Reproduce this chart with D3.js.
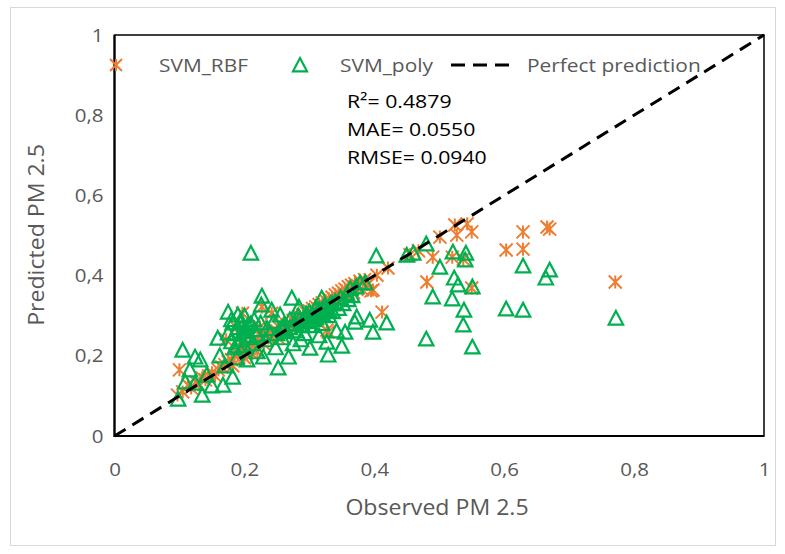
<!DOCTYPE html>
<html>
<head>
<meta charset="utf-8">
<script src="https://cdn.jsdelivr.net/npm/d3@7"></script>
<style>
  html, body { margin: 0; padding: 0; background: #fff; }
  svg { display: block; }
  text { font-family: "Open Sans", sans-serif; }
</style>
</head>
<body>
<script>
// Observed vs predicted PM 2.5 (normalised) for the two SVM kernels
const rbfObserved = [
  0.097,0.105,0.100,0.113,0.118,0.125,0.130,0.135,0.140,0.145,0.150,0.155,0.160,0.165,0.170,0.172,
  0.175,0.180,0.182,0.185,0.188,0.190,0.195,0.197,0.200,0.200,0.205,0.210,0.212,0.215,0.220,0.220,
  0.224,0.227,0.228,0.230,0.235,0.240,0.242,0.245,0.250,0.252,0.255,0.260,0.262,0.265,0.270,0.272,
  0.275,0.280,0.282,0.285,0.290,0.292,0.295,0.300,0.302,0.305,0.310,0.312,0.315,0.320,0.322,0.325,
  0.327,0.329,0.330,0.335,0.338,0.340,0.345,0.348,0.350,0.355,0.358,0.360,0.365,0.368,0.370,0.375,
  0.378,0.382,0.385,0.390,0.395,0.398,0.404,0.412,0.421,0.455,0.468,0.481,0.490,0.501,0.520,0.524,
  0.527,0.537,0.543,0.550,0.550,0.603,0.629,0.629,0.666,0.670,0.771
];
const rbfPredicted = [
  0.102,0.110,0.165,0.127,0.120,0.135,0.128,0.145,0.140,0.150,0.158,0.150,0.165,0.172,0.178,0.240,
  0.185,0.190,0.175,0.200,0.270,0.205,0.212,0.306,0.215,0.195,0.222,0.228,0.205,0.235,0.210,0.240,
  0.272,0.322,0.245,0.230,0.252,0.250,0.306,0.258,0.262,0.245,0.268,0.272,0.258,0.278,0.282,0.268,
  0.288,0.292,0.278,0.298,0.302,0.288,0.308,0.312,0.298,0.318,0.322,0.305,0.328,0.332,0.318,0.338,
  0.264,0.259,0.342,0.346,0.332,0.352,0.356,0.340,0.362,0.366,0.350,0.372,0.376,0.358,0.380,0.372,
  0.386,0.365,0.390,0.378,0.362,0.364,0.401,0.309,0.419,0.452,0.462,0.384,0.446,0.496,0.446,0.526,
  0.501,0.441,0.529,0.509,0.369,0.464,0.466,0.509,0.521,0.516,0.384
];
const polyObserved = [
  0.098,0.105,0.109,0.116,0.124,0.124,0.132,0.135,0.142,0.150,0.159,0.162,0.167,0.170,0.175,0.175,
  0.180,0.182,0.182,0.185,0.188,0.190,0.193,0.195,0.198,0.200,0.204,0.205,0.208,0.210,0.212,0.215,
  0.219,0.220,0.225,0.226,0.227,0.229,0.232,0.235,0.240,0.242,0.245,0.248,0.252,0.255,0.258,0.260,
  0.265,0.268,0.270,0.273,0.275,0.278,0.280,0.283,0.284,0.287,0.290,0.293,0.295,0.298,0.300,0.301,
  0.304,0.307,0.310,0.312,0.315,0.318,0.319,0.320,0.323,0.327,0.329,0.330,0.333,0.336,0.340,0.342,
  0.345,0.348,0.350,0.352,0.355,0.358,0.360,0.363,0.366,0.370,0.372,0.373,0.378,0.386,0.393,0.398,
  0.403,0.419,0.450,0.460,0.480,0.480,0.490,0.501,0.520,0.521,0.523,0.529,0.537,0.538,0.540,0.541,
  0.551,0.551,0.603,0.629,0.629,0.664,0.670,0.772,
  0.185,0.190,0.195,0.200,0.205,0.210,0.215,0.200,0.190,0.180,
  0.285,0.295,0.305,0.315,0.325,0.335,0.310,0.320,0.300,0.330,0.290,0.270,0.260,0.250
];
const polyPredicted = [
  0.092,0.214,0.135,0.165,0.132,0.197,0.190,0.102,0.152,0.125,0.244,0.200,0.127,0.175,0.257,0.309,
  0.290,0.282,0.147,0.220,0.195,0.302,0.284,0.240,0.260,0.225,0.190,0.275,0.250,0.456,0.230,0.265,
  0.252,0.210,0.282,0.327,0.349,0.197,0.240,0.268,0.255,0.314,0.285,0.220,0.170,0.302,0.245,0.275,
  0.260,0.197,0.290,0.344,0.230,0.280,0.262,0.300,0.322,0.240,0.285,0.255,0.305,0.290,0.310,0.219,
  0.275,0.290,0.320,0.300,0.250,0.312,0.344,0.280,0.325,0.234,0.202,0.300,0.330,0.310,0.335,0.262,
  0.318,0.345,0.224,0.330,0.259,0.355,0.340,0.368,0.350,0.284,0.372,0.297,0.382,0.382,0.289,0.259,
  0.449,0.282,0.451,0.456,0.479,0.242,0.347,0.421,0.342,0.459,0.394,0.377,0.277,0.314,0.439,0.456,
  0.372,0.222,0.317,0.314,0.424,0.394,0.414,0.294,
  0.255,0.270,0.285,0.265,0.245,0.280,0.290,0.300,0.225,0.235,
  0.290,0.300,0.305,0.315,0.320,0.330,0.295,0.305,0.285,0.315,0.275,0.270,0.265,0.255
];
const tickValues = [0, 0.2, 0.4, 0.6, 0.8, 1];
const seriesNames = ["SVM_RBF", "SVM_poly", "Perfect prediction"];
const statLines = ["R²= 0.4879", "MAE= 0.0550", "RMSE= 0.0940"];

const W = 785, H = 554;
const plot = { left: 114.5, right: 764, top: 35, bottom: 436 };
const orange = "#ED7D31", green = "#00B050", grey = "#595959";

const svg = d3.select("body").append("svg").attr("width", W).attr("height", H);

// text placed at (px, py) and widened a little to get a Calibri-like set width
function label(parent, px, py, str, size, sx, anchor, fill, rotate) {
  return parent.append("text")
    .attr("transform", `translate(${px},${py})${rotate ? ` rotate(${rotate})` : ""} scale(${sx},1)`)
    .attr("dy", "0.35em").attr("text-anchor", anchor || "start")
    .attr("fill", fill).style("font-size", size + "px").text(str);
}

// chart area outline
svg.append("rect").attr("x", 10.5).attr("y", 7.5).attr("width", 765).attr("height", 538)
  .attr("fill", "#fff").attr("stroke", "#d9d9d9").attr("stroke-width", 1);

const x = d3.scaleLinear().domain([0, 1]).range([plot.left, plot.right]);
const y = d3.scaleLinear().domain([0, 1]).range([plot.bottom, plot.top]);

const commaLocale = d3.formatLocale({ decimal: ",", thousands: ".", grouping: [3], currency: ["", ""] });
const fmt = commaLocale.format("~g");

// axes (labels only; the frame is drawn separately)
const tickSx = 1.08;
const gx = svg.append("g").attr("transform", `translate(0,${plot.bottom})`)
  .call(d3.axisBottom(x).tickValues(tickValues).tickFormat(fmt).tickSize(0).tickPadding(27));
const gy = svg.append("g").attr("transform", `translate(${plot.left},0)`)
  .call(d3.axisLeft(y).tickValues(tickValues).tickFormat(fmt).tickSize(0).tickPadding(11));
[gx, gy].forEach(g => {
  g.select(".domain").remove();
  g.selectAll("text").attr("fill", grey).style("font-size", "19px")
    .style("font-family", "'Open Sans', sans-serif")
    .attr("transform", `scale(${tickSx},1)`);
});
gy.selectAll("text").attr("x", -11 / tickSx);

// plot frame
svg.append("rect").attr("x", plot.left).attr("y", plot.top)
  .attr("width", plot.right - plot.left).attr("height", plot.bottom - plot.top)
  .attr("fill", "none").attr("stroke", "#000").attr("stroke-width", 1.5);
svg.append("path")
  .attr("d", `M${plot.left},${plot.top}V${plot.bottom}H${plot.right}`)
  .attr("fill", "none").attr("stroke", "#000").attr("stroke-width", 2.2);

// marker shapes
const starPath = (r) => `M0,${-r}V${r}M${-r},${-r}L${r},${r}M${r},${-r}L${-r},${r}`;
const triPath = (r) => `M0,${-r}L${r},${r * 0.9}L${-r},${r * 0.9}Z`;

const marks = svg.append("g");

const rbfData = rbfObserved.map((v, i) => [v, rbfPredicted[i]]);
const polyData = polyObserved.map((v, i) => [v, polyPredicted[i]]);

marks.append("g").selectAll("path").data(rbfData).join("path")
  .attr("transform", d => `translate(${x(d[0])},${y(d[1])})`)
  .attr("d", starPath(6.5))
  .attr("fill", "none").attr("stroke", orange).attr("stroke-width", 2);

marks.append("g").selectAll("path").data(polyData).join("path")
  .attr("transform", d => `translate(${x(d[0])},${y(d[1])})`)
  .attr("d", triPath(7.2))
  .attr("fill", "none").attr("stroke", green).attr("stroke-width", 2.2)
  .attr("stroke-linejoin", "miter");

// 1:1 reference line
svg.append("path")
  .datum([[0, 0], [1, 1]])
  .attr("d", d3.line().x(d => x(d[0])).y(d => y(d[1])))
  .attr("fill", "none").attr("stroke", "#000").attr("stroke-width", 3)
  .attr("stroke-dasharray", "13,8");

// legend
const lg = svg.append("g").attr("transform", "translate(0,65)");
lg.append("path").attr("transform", "translate(116,0)").attr("d", starPath(6))
  .attr("fill", "none").attr("stroke", orange).attr("stroke-width", 2);
label(lg, 159, 0, seriesNames[0], 19, 1.1, "start", grey);
lg.append("path").attr("transform", "translate(300,0)").attr("d", triPath(7))
  .attr("fill", "none").attr("stroke", green).attr("stroke-width", 2.2);
label(lg, 340, 0, seriesNames[1], 19, 1.1, "start", grey);
lg.append("line").attr("x1", 451).attr("x2", 511).attr("y1", 0).attr("y2", 0)
  .attr("stroke", "#000").attr("stroke-width", 3).attr("stroke-dasharray", "14,8");
label(lg, 527, 0, seriesNames[2], 19, 1.1, "start", grey);

// goodness-of-fit statistics
const st = svg.append("g");
statLines.forEach((s, i) => label(st, 347, 102 + i * 28, s, 18.5, 1.15, "start", "#000"));

// axis titles
label(svg, 437, 508, "Observed PM 2.5", 21, 1.1, "middle", grey);
label(svg, 37, 235, "Predicted PM 2.5", 21, 1.1, "middle", grey, -90);
</script>
</body>
</html>
